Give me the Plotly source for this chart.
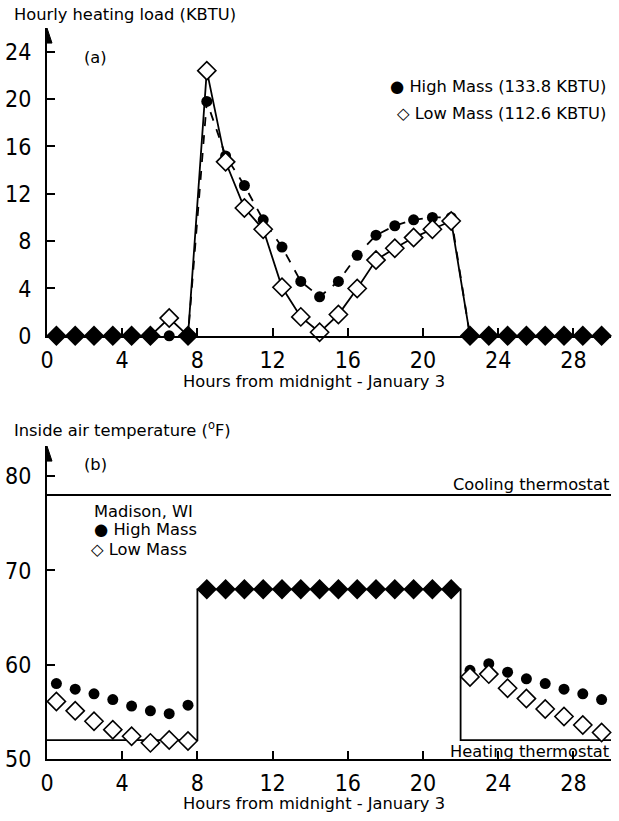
import plotly.graph_objects as go
from plotly.subplots import make_subplots

# Hour marks (half-hour centres of each hourly interval)
hours = [h + 0.5 for h in range(30)]

# (a) hourly heating load, KBTU
load_high = [0, 0, 0, 0, 0, 0, 0, 0, 19.8, 15.2, 12.7, 9.8, 7.5, 4.6, 3.3,
             4.6, 6.8, 8.5, 9.3, 9.8, 10.0, 10.0, 0, 0, 0, 0, 0, 0, 0, 0]
load_low = [0, 0, 0, 0, 0, 0, 1.5, 0, 22.4, 14.7, 10.8, 9.0, 4.1, 1.6, 0.3,
            1.8, 4.0, 6.4, 7.4, 8.3, 9.0, 9.7, 0, 0, 0, 0, 0, 0, 0, 0]

# (b) inside air temperature, deg F
temp_high = [58.0, 57.4, 56.9, 56.3, 55.6, 55.1, 54.8, 55.7,
             68, 68, 68, 68, 68, 68, 68, 68, 68, 68, 68, 68, 68, 68,
             59.4, 60.1, 59.2, 58.5, 58.0, 57.4, 56.9, 56.3]
temp_low = [56.1, 55.1, 54.0, 53.1, 52.4, 51.7, 52.0, 51.9,
            68, 68, 68, 68, 68, 68, 68, 68, 68, 68, 68, 68, 68, 68,
            58.7, 59.0, 57.5, 56.4, 55.3, 54.5, 53.6, 52.8]

# Thermostat schedules
heat_x = [0, 8, 8, 22, 22, 30]
heat_y = [52, 52, 68, 68, 52, 52]
cool_x = [0, 30]
cool_y = [78, 78]

load_ticks = [0, 4, 8, 12, 16, 20, 24]
temp_ticks = [50, 60, 70, 80]
hour_ticks = [0, 4, 8, 12, 16, 20, 24, 28]

INK = "black"
TICK_FONT = dict(family="Liberation Sans Narrow, DejaVu Sans Condensed, sans-serif",
                 size=23, color=INK)
TEXT_FONT = dict(family="DejaVu Sans, Verdana, sans-serif", size=16.3, color=INK)

# Layout frame: page coordinates (pixels) of the plot area
PLOT_LEFT, PLOT_RIGHT = 47, 611
PAGE_H = 806


def px(x):
    return (x - PLOT_LEFT) / (PLOT_RIGHT - PLOT_LEFT)


def py(y):
    return 1 - y / PAGE_H


def low_colors(high, low):
    # filled where both buildings give the same value
    return [INK if a == b else "white" for a, b in zip(high, low)]


fig = make_subplots(rows=2, cols=1)

# ---- panel (a)
fig.add_trace(go.Scatter(x=hours, y=load_high, mode="lines+markers",
                         line=dict(color=INK, width=1.8, dash="dash"),
                         marker=dict(symbol="circle", size=11, color=INK),
                         cliponaxis=False, showlegend=False), row=1, col=1)
fig.add_trace(go.Scatter(x=hours, y=load_low, mode="lines+markers",
                         line=dict(color=INK, width=1.8),
                         marker=dict(symbol="diamond", size=14,
                                     color=low_colors(load_high, load_low),
                                     line=dict(color=INK, width=1.6)),
                         cliponaxis=False, showlegend=False), row=1, col=1)

# ---- panel (b)
fig.add_trace(go.Scatter(x=cool_x, y=cool_y, mode="lines",
                         line=dict(color=INK, width=2),
                         showlegend=False), row=2, col=1)
fig.add_trace(go.Scatter(x=heat_x, y=heat_y, mode="lines",
                         line=dict(color=INK, width=1.8),
                         showlegend=False), row=2, col=1)
fig.add_trace(go.Scatter(x=hours, y=temp_high, mode="markers",
                         marker=dict(symbol="circle", size=11, color=INK),
                         cliponaxis=False, showlegend=False), row=2, col=1)
fig.add_trace(go.Scatter(x=hours, y=temp_low, mode="markers",
                         marker=dict(symbol="diamond", size=14,
                                     color=low_colors(temp_high, temp_low),
                                     line=dict(color=INK, width=1.6)),
                         cliponaxis=False, showlegend=False), row=2, col=1)

axis_common = dict(showgrid=False, zeroline=False, showline=True, linecolor=INK,
                   linewidth=2, ticks="inside", ticklen=8, tickwidth=1.5,
                   tickcolor=INK, tickfont=TICK_FONT)

fig.update_xaxes(range=[0, 30], tickvals=hour_ticks, ticklabelstandoff=3, **axis_common)
fig.update_yaxes(ticklabelstandoff=9, **axis_common)
fig.update_yaxes(range=[0, 26], tickvals=load_ticks, domain=[py(335), py(28)],
                 row=1, col=1)
fig.update_yaxes(range=[50, 83.2], tickvals=temp_ticks, domain=[py(757), py(445)],
                 row=2, col=1)


def note(text, x, y, xanchor="left"):
    return dict(text=text, x=px(x), y=py(y), xref="paper", yref="paper",
                xanchor=xanchor, yanchor="middle", showarrow=False, font=TEXT_FONT)


annotations = [
    note("Hourly heating load (KBTU)", 12, 14),
    note("(a)", 82, 57),
    note("● High Mass (133.8 KBTU)", 608, 86, "right"),
    note("◇ Low Mass (112.6 KBTU)", 608, 113, "right"),
    note("Hours from midnight - January 3", 314, 381, "center"),
    note("Inside air temperature (<sup>o</sup>F)", 12, 428),
    note("(b)", 82, 463),
    note("Madison, WI", 92, 510),
    note("● High Mass", 92, 528),
    note("◇ Low Mass", 89, 548),
    note("Cooling thermostat", 611, 483, "right"),
    note("Heating thermostat", 611, 750, "right"),
    note("Hours from midnight - January 3", 314, 802, "center"),
]

# arrow heads capping the vertical axes
shapes = [
    dict(type="path", xref="x", yref="y", xsizemode="pixel", ysizemode="pixel",
         xanchor=0, yanchor=26, path="M -5,-15 L 0,0 L 5,-15 Z",
         fillcolor=INK, line=dict(color=INK, width=1)),
    dict(type="path", xref="x2", yref="y2", xsizemode="pixel", ysizemode="pixel",
         xanchor=0, yanchor=83.2, path="M -5,-15 L 0,0 L 5,-15 Z",
         fillcolor=INK, line=dict(color=INK, width=1)),
]

fig.update_layout(width=619, height=821, margin=dict(l=47, r=8, t=0, b=0),
                  paper_bgcolor="white", plot_bgcolor="white",
                  annotations=annotations, shapes=shapes)

fig.write_html("out.html")
